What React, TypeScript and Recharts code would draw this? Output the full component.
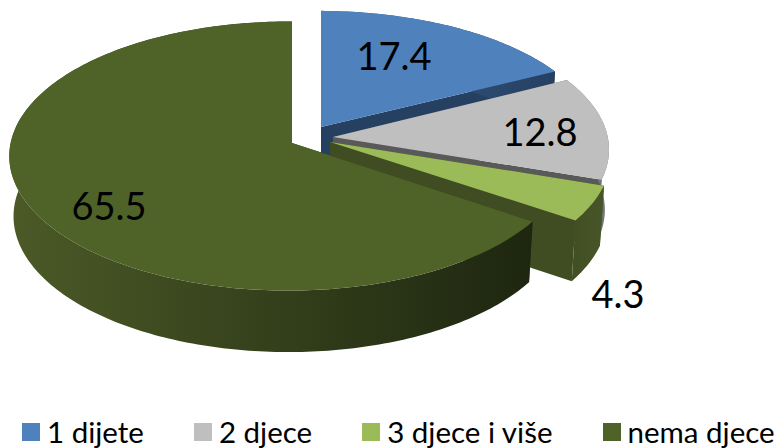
import React from "react";
import { PieChart, Pie, Legend } from "recharts";

const categories = ["1 dijete", "2 djece", "3 djece i više", "nema djece"];
const values = [17.4, 12.8, 4.3, 65.5];
const topColors = ["#4f81bd", "#bfbfbf", "#9bbb59", "#4f6228"];

// presentation of the exploded 3D pie (not data)
const CX = 321;
const CY = 127;
const apexOffsets = [
  [0, 0],
  [12, 10],
  [9, 15],
  [-29, 16],
];
const radiusScale = [1, 1, 1.02, 1];
const flatten = [0.975, 1, 1, 1.02];
const cutColors = ["#254061", "#595959", "#404d22", "#2a3315"];
const wallFrom = ["#3a5f8e", "#8a8a8a", "#424f23", "#4b5a27"];
const wallTo = ["#254061", "#6f6f6f", "#47562a", "#1e2610"];
const labelOffsets = [
  [73, -72],
  [219, 3.5],
  [297, 166],
  [-212, 78],
];
const Y_RATIO = 0.47;
const PERSPECTIVE = 0.097;
const SIDE_PERSPECTIVE = 0.012;
const DEPTH = 60;
const BOTTOM_X = 0.985;
const BOTTOM_Y = 1.01;

const table = categories.map((name, i) => ({ name, value: values[i], fill: topColors[i] }));

type Pt = [number, number];
const project = (t: number, r: number, k: number): Pt => {
  const a = (t * Math.PI) / 180;
  const u = Math.sin(a);
  const v = Math.cos(a);
  const f = 1 / (1 + PERSPECTIVE * v + SIDE_PERSPECTIVE * u);
  return [r * u * f, -r * Y_RATIO * k * v * f];
};
const lower = (p: Pt): Pt => [p[0] * BOTTOM_X, p[1] * BOTTOM_Y + DEPTH];
const toPath = (pts: Pt[], ox: number, oy: number) =>
  "M" + pts.map((p) => `${(p[0] + ox).toFixed(2)},${(p[1] + oy).toFixed(2)}`).join("L") + "Z";

function Slice3D(props: any) {
  const { cx, cy, startAngle, endAngle, outerRadius, name, fill } = props;
  const idx = categories.indexOf(name ?? props.payload?.name);
  const r = outerRadius * radiusScale[idx];
  const ox = cx + apexOffsets[idx][0];
  const oy = cy + apexOffsets[idx][1];
  const t0 = 90 - Math.max(startAngle, endAngle);
  const t1 = 90 - Math.min(startAngle, endAngle);
  const steps = Math.max(2, Math.ceil(t1 - t0));
  const arc: Pt[] = [];
  for (let i = 0; i <= steps; i++) arc.push(project(t0 + ((t1 - t0) * i) / steps, r, flatten[idx]));
  const apex: Pt = [0, 0];
  const first = arc[0];
  const last = arc[arc.length - 1];
  const cut = (p: Pt) => toPath([apex, p, lower(p), lower(apex)], ox, oy);
  const wall = toPath([...arc, ...arc.slice().reverse().map(lower)], ox, oy);
  const top = toPath([apex, ...arc], ox, oy);
  const xs = arc.map((p) => p[0] + ox);
  const gid = `wall-${idx}`;
  return (
    <g>
      <defs>
        <linearGradient id={gid} gradientUnits="userSpaceOnUse" x1={Math.min(...xs)} x2={Math.max(...xs)} y1={0} y2={0}>
          <stop offset="0" stopColor={wallFrom[idx]} />
          <stop offset="1" stopColor={wallTo[idx]} />
        </linearGradient>
      </defs>
      <path d={cut(first)} fill={cutColors[idx]} />
      <path d={cut(last)} fill={cutColors[idx]} />
      <path d={wall} fill={`url(#${gid})`} />
      <path d={top} fill={fill} />
    </g>
  );
}

function SliceLabel(props: any) {
  const { cx, cy, name, value } = props;
  const idx = categories.indexOf(name ?? props.payload?.name);
  return (
    <text
      x={cx + labelOffsets[idx][0]}
      y={cy + labelOffsets[idx][1]}
      textAnchor="middle"
      dominantBaseline="central"
      fontFamily="Lato"
      fontSize={38}
      fill="#000000"
    >
      {value}
    </text>
  );
}

function LegendRow({ payload }: any) {
  return (
    <div style={{ display: "flex", gap: 50, fontFamily: "Lato", fontSize: 29.5, color: "#000", lineHeight: "34px", whiteSpace: "nowrap" }}>
      {(payload || []).map((e: any) => (
        <div key={e.value} style={{ display: "flex", alignItems: "center", gap: 7 }}>
          <span style={{ width: 18, height: 18, background: e.color, display: "inline-block" }} />
          <span>{e.value}</span>
        </div>
      ))}
    </div>
  );
}

export default function App() {
  return (
    <div style={{ position: "absolute", left: 0, top: 0, width: 783, height: 448, background: "#fff", overflow: "hidden" }}>
      <PieChart width={783} height={448} margin={{ top: 0, right: 0, bottom: 0, left: 0 }}>
        <Pie
          data={table}
          dataKey="value"
          nameKey="name"
          cx={CX}
          cy={CY}
          innerRadius={0}
          outerRadius={278}
          startAngle={90}
          endAngle={-270}
          stroke="none"
          isAnimationActive={false}
          shape={Slice3D}
          label={SliceLabel}
          labelLine={false}
        />
        <Legend
          content={<LegendRow />}
          layout="horizontal"
          align="left"
          verticalAlign="bottom"
          wrapperStyle={{ position: "absolute", left: 22, top: 415, width: 770, height: 34 }}
        />
      </PieChart>
    </div>
  );
}
